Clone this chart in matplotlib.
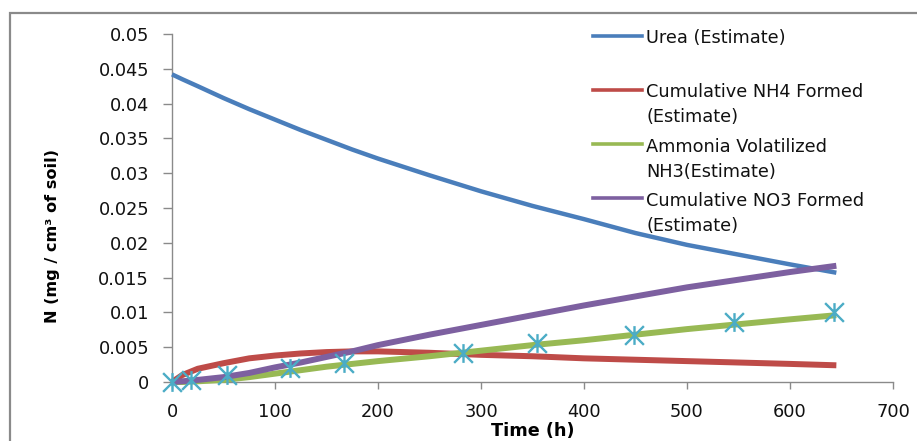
import matplotlib
matplotlib.use("Agg")
import matplotlib.pyplot as plt
from matplotlib.path import Path
from matplotlib.patches import Rectangle
from matplotlib.lines import Line2D

plt.rcParams['font.family'] = ['DejaVu Sans']

# ---- data ----
time_est = [0, 10, 25, 50, 75, 100, 125, 150, 175, 200, 250, 300, 350, 400, 450, 500, 550, 600, 645]
urea_est = [0.0442, 0.0435, 0.0425, 0.0408, 0.0392, 0.0377, 0.0362, 0.0348, 0.0334, 0.0321,
            0.0297, 0.0274, 0.0253, 0.0234, 0.0214, 0.0197, 0.0183, 0.0169, 0.0157]
nh4_est = [0, 0.0010, 0.0019, 0.0027, 0.0034, 0.0038, 0.0041, 0.0043, 0.0044, 0.0044,
           0.0042, 0.0039, 0.0037, 0.0034, 0.0032, 0.0030, 0.0028, 0.0026, 0.0024]
nh3_est = [0, 0.0000, 0.0001, 0.0003, 0.0007, 0.0012, 0.0017, 0.0022, 0.0026, 0.0030,
           0.0037, 0.0045, 0.0053, 0.0060, 0.0068, 0.0076, 0.0083, 0.0090, 0.0096]
no3_est = [0, 0.0001, 0.0003, 0.0007, 0.0013, 0.0021, 0.0028, 0.0036, 0.0044, 0.0053,
           0.0068, 0.0082, 0.0096, 0.0110, 0.0123, 0.0136, 0.0147, 0.0158, 0.0167]

time_meas = [0, 18, 53, 115, 167, 283, 354, 449, 546, 643]
nh3_meas = [0, 0.0003, 0.0010, 0.0020, 0.0028, 0.0041, 0.0056, 0.0067, 0.0086, 0.0100]

legend_labels = ["Urea (Estimate)", "Cumulative NH4 Formed\n(Estimate)",
                 "Ammonia Volatilized\nNH3(Estimate)", "Cumulative NO3 Formed\n(Estimate)"]
x_ticks = [0, 100, 200, 300, 400, 500, 600, 700]
y_ticks = [0, 0.005, 0.01, 0.015, 0.02, 0.025, 0.03, 0.035, 0.04, 0.045, 0.05]
y_tick_labels = ["0", "0.005", "0.01", "0.015", "0.02", "0.025", "0.03", "0.035", "0.04", "0.045", "0.05"]

colors = ["#4A7EBB", "#BE4B48", "#98B954", "#7D60A0"]
star_color = "#4BACC6"

W, H = 917, 441
fig = plt.figure(figsize=(W / 100, H / 100), dpi=100)

# outer chart frame (cropped at right/bottom)
fig.add_artist(Rectangle((10 / W, -0.2), 1.2, (H - 13) / H + 0.2, transform=fig.transFigure,
                         fill=False, edgecolor="#8a8a8a", linewidth=1.6, clip_on=False))

ax = fig.add_axes([172 / W, 1 - 382 / H, 721 / W, 348 / H])

series = [urea_est, nh4_est, nh3_est, no3_est]
widths = [3.2, 4.3, 4.3, 4.3]
for vals, c, lw in zip(series, colors, widths):
    ax.plot(time_est, vals, color=c, lw=lw, clip_on=False, solid_capstyle='butt', zorder=3)

star = Path([(0, -1), (0, 1), (-1, -1), (1, 1), (-1, 1), (1, -1)],
            [Path.MOVETO, Path.LINETO, Path.MOVETO, Path.LINETO, Path.MOVETO, Path.LINETO])
ax.plot(time_meas, nh3_meas, linestyle='none', marker=star, markersize=13.5,
        markeredgewidth=1.7, markeredgecolor=star_color, color=star_color, clip_on=False, zorder=4)

ax.set_xlim(0, 700)
ax.set_ylim(0, 0.05)
ax.set_xticks(x_ticks)
ax.set_yticks(y_ticks)
ax.set_yticklabels(y_tick_labels)

for s in ["top", "right"]:
    ax.spines[s].set_visible(False)
for s in ["left", "bottom"]:
    ax.spines[s].set_color("#8a8a8a")
    ax.spines[s].set_linewidth(1.0)
ax.tick_params(axis='y', direction='out', length=6.5, width=1, color="#8a8a8a",
               labelsize=12.8, pad=10, labelcolor="#111111")
ax.tick_params(axis='x', direction='out', length=5, width=1, color="#8a8a8a",
               labelsize=12.8, pad=10, labelcolor="#111111")

ax.set_xlabel("Time (h)", fontsize=12.7, fontweight='bold', va='center')
ax.xaxis.set_label_coords((533 - 172) / 721, (382 - 431) / 348)
ax.set_ylabel("N (mg / cm³ of soil)", fontsize=11.6, fontweight='bold', va='center')
ax.yaxis.set_label_coords((53 - 172) / 721, (382 - 236) / 348)

# legend (handle beside first line of each label)
handle_y = [36, 90, 144, 198]
text_top_y = [29, 83, 138, 192]
for lab, c, hy, ty in zip(legend_labels, colors, handle_y, text_top_y):
    fig.add_artist(Line2D([593 / W, 642 / W], [1 - hy / H] * 2, color=c, lw=2.6,
                          transform=fig.transFigure))
    fig.text(646 / W, 1 - ty / H, lab, fontsize=12.8, va='top', ha='left',
             linespacing=1.5, color="#111111")

fig.savefig("out.png", dpi=100)
